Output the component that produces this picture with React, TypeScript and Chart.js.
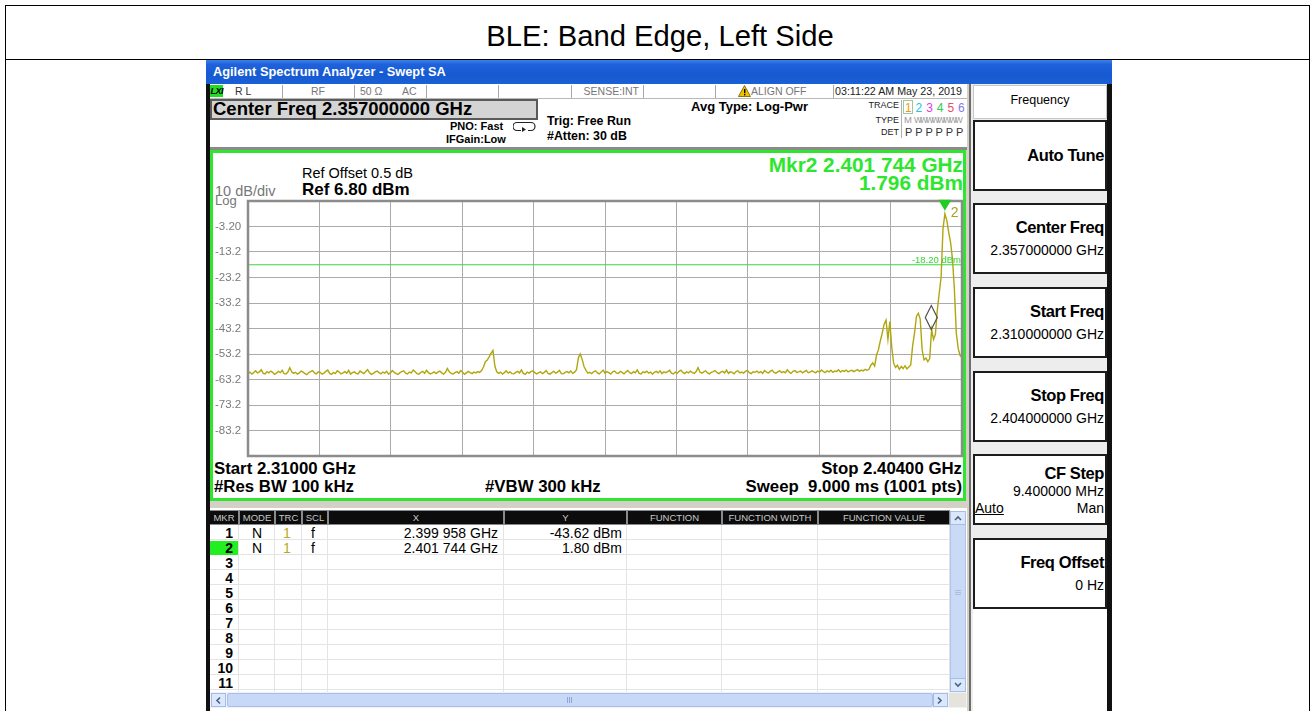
import React, { useEffect, useRef } from 'react';
import { Chart, registerables } from 'chart.js';

Chart.register(...registerables);

const FONT = '"Liberation Sans", Arial, Helvetica, sans-serif';

// ---------------- data ----------------
const START_GHZ = 2.31;
const STOP_GHZ = 2.404;
const STEP_GHZ = 0.00025;
const TRACE_DBM = [
  -60.9,-60.3,-61.1,-60.5,-59.8,-60.6,-60.2,-59.4,-60.8,-61.0,-60.1,-60.6,-59.9,-60.4,-61.2,-60.7,-60.0,-60.5,-59.6,-60.9,
  -61.0,-60.3,-58.6,-60.2,-60.8,-60.4,-61.1,-60.6,-59.9,-60.3,-60.9,-61.3,-60.5,-60.1,-59.7,-60.6,-61.0,-60.2,-60.4,-61.1,
  -60.7,-60.0,-59.5,-60.8,-61.2,-60.4,-60.9,-59.8,-60.3,-61.0,-60.6,-60.1,-60.7,-59.6,-61.1,-60.5,-60.2,-60.8,-61.0,-59.9,
  -60.4,-60.9,-60.1,-59.3,-60.6,-61.2,-60.8,-60.2,-59.9,-60.5,-61.0,-60.3,-60.7,-60.0,-61.1,-60.6,-59.7,-60.4,-60.9,-61.2,
  -60.5,-60.1,-59.8,-60.7,-61.0,-60.3,-60.6,-59.5,-60.2,-60.9,-61.1,-60.4,-60.0,-60.8,-59.6,-60.5,-61.0,-60.7,-60.2,-60.9,
  -60.3,-59.9,-60.6,-61.1,-60.4,-58.9,-60.2,-60.8,-61.0,-60.5,-60.1,-60.7,-59.7,-60.4,-61.2,-60.6,-60.0,-60.5,-60.9,-60.3,
  -60.6,-60.1,-60.4,-59.7,-58.3,-56.2,-55.6,-54.3,-52.9,-51.8,-57.9,-60.2,-60.8,-60.3,-61.1,-60.5,-59.8,-60.7,-60.2,-60.9,
  -61.0,-60.4,-60.0,-60.6,-59.4,-60.8,-61.2,-60.3,-60.7,-60.1,-59.8,-60.5,-61.0,-60.6,-60.2,-60.9,-60.4,-59.7,-60.8,-61.1,
  -60.5,-60.0,-60.7,-60.3,-59.6,-60.9,-61.0,-60.4,-60.1,-60.6,-59.9,-60.8,-60.3,-59.4,-54.6,-53.2,-55.4,-58.2,-59.6,-60.7,
  -60.4,-60.9,-60.2,-59.8,-60.6,-61.0,-60.3,-59.5,-60.7,-60.1,-60.5,-61.1,-60.2,-59.9,-60.6,-60.8,-60.0,-60.4,-61.0,-60.3,
  -59.7,-60.5,-60.9,-60.1,-60.6,-59.4,-60.8,-61.0,-60.2,-60.5,-59.9,-60.7,-60.3,-61.1,-60.4,-60.0,-60.6,-59.8,-60.9,-60.2,
  -60.5,-60.1,-59.6,-60.7,-61.0,-60.3,-60.8,-60.0,-59.5,-60.4,-60.9,-60.2,-60.6,-59.9,-60.5,-60.8,-60.1,-58.6,-60.3,-60.7,
  -60.2,-59.8,-60.6,-61.0,-60.4,-60.1,-59.7,-60.5,-60.9,-60.3,-60.0,-60.6,-59.5,-60.8,-60.2,-60.4,-61.0,-60.1,-59.8,-60.6,
  -60.3,-60.7,-60.0,-59.6,-60.5,-60.9,-60.2,-60.4,-59.9,-60.6,-60.1,-60.8,-59.7,-60.3,-60.6,-60.0,-59.5,-60.4,-60.7,-60.2,
  -59.8,-60.5,-60.1,-60.6,-59.4,-60.3,-60.8,-60.0,-59.7,-60.4,-60.2,-59.9,-60.6,-60.1,-59.6,-60.5,-60.3,-59.8,-60.2,-60.6,
  -59.9,-60.3,-59.5,-60.1,-60.5,-59.8,-60.2,-59.6,-60.4,-59.9,-60.1,-59.4,-60.3,-59.7,-60.0,-59.5,-60.2,-59.8,-59.6,-60.1,
  -59.7,-59.3,-60.0,-59.5,-59.8,-59.2,-59.6,-59.2,-57.6,-56.7,-57.9,-53.6,-51.5,-48.0,-45.0,-41.5,-39.9,-47.5,-40.5,-50.5,
  -56.8,-58.5,-57.6,-59.2,-58.1,-58.9,-57.8,-59.0,-58.3,-57.5,-50.0,-45.0,-38.5,-37.2,-39.5,-51.5,-55.5,-54.8,-56.2,-55.0,
  -43.6,-47.5,-45.5,-36.0,-29.4,-23.0,-4.0,1.8,-0.8,-5.5,-9.5,-16.0,-28.0,-45.0,-51.0,-53.8,-54.6,
];
const X_GRID_GHZ = [2.31, 2.3194, 2.3288, 2.3382, 2.3476, 2.357, 2.3664, 2.3758, 2.3852, 2.3946, 2.404];
const Y_GRID_DBM = [-93.2, -83.2, -73.2, -63.2, -53.2, -43.2, -33.2, -23.2, -13.2, -3.2, 6.8];
const Y_GRID_LABELS = ['', '-83.2', '-73.2', '-63.2', '-53.2', '-43.2', '-33.2', '-23.2', '-13.2', '-3.20', ''];
const DISPLAY_LINE_DBM = -18.2;
const DISPLAY_LINE_LABEL = '-18.20 dBm';
const MARKER_NUMBERS = [1, 2];
const MARKER_GHZ = [2.399958, 2.401744];
const MARKER_DBM = [-43.62, 1.796];

const TABLE_X = ['2.399 958 GHz', '2.401 744 GHz'];
const TABLE_Y = ['-43.62 dBm', '1.80 dBm'];
const TABLE_ROWS = ['1', '2', '3', '4', '5', '6', '7', '8', '9', '10', '11'];
const TABLE_HEAD = ['MKR', 'MODE', 'TRC', 'SCL', 'X', 'Y', 'FUNCTION', 'FUNCTION WIDTH', 'FUNCTION VALUE'];
const TABLE_COLS = [210, 239, 275, 302, 328, 504, 627, 722, 818, 950];

const SOFTKEY_TITLES = ['Auto Tune', 'Center Freq', 'Start Freq', 'Stop Freq', 'CF Step', 'Freq Offset'];
const SOFTKEY_VALUES = ['', '2.357000000 GHz', '2.310000000 GHz', '2.404000000 GHz', '9.400000 MHz', '0 Hz'];
const SOFTKEY_TOPS = [120, 203, 287, 371, 454, 538];

const TRACE_NUMS = ['1', '2', '3', '4', '5', '6'];
const TRACE_COLORS = ['#f09a10', '#20c4e8', '#e040e0', '#2ed050', '#f04868', '#8a78f0'];

// ---------------- chart ----------------
const overlayPlugin = {
  id: 'saOverlay',
  afterDatasetsDraw(chart: any) {
    const { ctx, chartArea: a, scales } = chart;
    const x = scales.x;
    const y = scales.y;
    ctx.save();
    ctx.strokeStyle = '#8c8c8c';
    ctx.lineWidth = 2.5;
    ctx.strokeRect(a.left, a.top, a.right - a.left, a.bottom - a.top);

    const dy = y.getPixelForValue(DISPLAY_LINE_DBM);
    ctx.fillStyle = '#30d830';
    ctx.font = '9.5px "Liberation Sans"';
    ctx.textAlign = 'right';
    ctx.textBaseline = 'alphabetic';
    ctx.fillText(DISPLAY_LINE_LABEL, a.right - 1, dy - 2);

    MARKER_GHZ.forEach((f, k) => {
      const px = x.getPixelForValue(f);
      const py = y.getPixelForValue(MARKER_DBM[k]);
      if (MARKER_NUMBERS[k] === 2) {
        ctx.fillStyle = '#22cc22';
        ctx.beginPath();
        ctx.moveTo(px, py - 3);
        ctx.lineTo(px + 6.5, py - 14);
        ctx.lineTo(px - 6.5, py - 14);
        ctx.closePath();
        ctx.fill();
        ctx.fillStyle = '#a59f2c';
        ctx.font = '14px "Liberation Sans"';
        ctx.textAlign = 'left';
        ctx.fillText(String(MARKER_NUMBERS[k]), px + 6, py + 3);
      } else {
        ctx.strokeStyle = '#505050';
        ctx.lineWidth = 1.2;
        ctx.beginPath();
        ctx.moveTo(px, py);
        ctx.lineTo(px + 6, py - 12);
        ctx.lineTo(px, py - 24);
        ctx.lineTo(px - 6, py - 12);
        ctx.closePath();
        ctx.stroke();
      }
    });
    ctx.restore();
  },
};

function SpectrumChart() {
  const ref = useRef<HTMLCanvasElement>(null);
  useEffect(() => {
    const canvas = ref.current;
    if (!canvas) return;
    const chart = new Chart(canvas, {
      type: 'line',
      data: {
        datasets: [
          {
            label: 'Trace 1',
            data: TRACE_DBM.map((v, i) => ({ x: START_GHZ + i * STEP_GHZ, y: v })),
            borderColor: '#b0a70e',
            borderWidth: 1.4,
            pointRadius: 0,
            tension: 0,
            fill: false,
          },
          {
            label: 'Display line',
            data: [
              { x: START_GHZ, y: DISPLAY_LINE_DBM },
              { x: STOP_GHZ, y: DISPLAY_LINE_DBM },
            ],
            borderColor: '#3ad83a',
            borderWidth: 1,
            pointRadius: 0,
          },
        ],
      },
      options: {
        animation: false,
        responsive: false,
        devicePixelRatio: 1,
        events: [],
        layout: { padding: { top: 8, right: 3, bottom: 8, left: 0 } },
        plugins: { legend: { display: false }, tooltip: { enabled: false } },
        scales: {
          x: {
            type: 'linear',
            min: START_GHZ,
            max: STOP_GHZ,
            afterBuildTicks: (s: any) => {
              s.ticks = X_GRID_GHZ.map((v) => ({ value: v }));
            },
            afterFit: (s: any) => {
              s.height = 0;
            },
            ticks: { display: false },
            grid: { color: '#ababab', lineWidth: 1, drawTicks: false },
            border: { display: false },
          },
          y: {
            type: 'linear',
            min: -93.2,
            max: 6.8,
            afterBuildTicks: (s: any) => {
              s.ticks = Y_GRID_DBM.map((v) => ({ value: v }));
            },
            afterFit: (s: any) => {
              s.width = 33;
            },
            ticks: {
              callback: (_v: any, i: number) => Y_GRID_LABELS[i],
              color: '#7a7a7a',
              font: { family: 'Liberation Sans', size: 11.5 },
              crossAlign: 'far',
              padding: 0,
              autoSkip: false,
            },
            grid: { color: '#ababab', lineWidth: 1, drawTicks: false },
            border: { display: false },
          },
        },
      } as any,
      plugins: [overlayPlugin],
    });
    return () => chart.destroy();
  }, []);
  return (
    <canvas
      ref={ref}
      width={750}
      height={271}
      style={{ position: 'absolute', left: 215, top: 193, width: 750, height: 271 }}
    />
  );
}

// ---------------- helpers ----------------
type TP = {
  x: number;
  y: number;
  s: number;
  t: string;
  b?: boolean;
  c?: string;
  al?: 'left' | 'right' | 'center';
  i?: boolean;
  u?: boolean;
  ls?: number;
};
function Txt({ x, y, s, t, b, c, al = 'left', i, u, ls }: TP) {
  const style: React.CSSProperties = {
    position: 'absolute',
    top: y - s * 0.5,
    fontSize: s,
    lineHeight: `${s}px`,
    fontWeight: b ? 700 : 400,
    fontStyle: i ? 'italic' : 'normal',
    textDecoration: u ? 'underline' : 'none',
    color: c || '#000',
    whiteSpace: 'pre',
    fontFamily: FONT,
    letterSpacing: ls || 0,
  };
  if (al === 'left') style.left = x;
  else if (al === 'right') style.right = 1314 - x;
  else {
    style.left = x;
    style.transform = 'translateX(-50%)';
  }
  return <div style={style}>{t}</div>;
}

function Box(props: { l: number; t: number; w: number; h: number; bg?: string; st?: React.CSSProperties; children?: any }) {
  return (
    <div
      style={{
        position: 'absolute',
        left: props.l,
        top: props.t,
        width: props.w,
        height: props.h,
        background: props.bg,
        boxSizing: 'border-box',
        ...(props.st || {}),
      }}
    >
      {props.children}
    </div>
  );
}

export default function App() {
  const statusSeps = [282, 354, 426, 498, 571, 643, 715, 833];
  return (
    <div
      style={{
        position: 'absolute',
        left: 0,
        top: 0,
        width: 1314,
        height: 711,
        overflow: 'hidden',
        background: '#fff',
        fontFamily: FONT,
      }}
    >
      {/* document table frame */}
      <Box l={5} t={5} w={1305} h={1} bg="#000" />
      <Box l={5} t={59} w={1305} h={1} bg="#000" />
      <Box l={5} t={5} w={1} h={706} bg="#000" />
      <Box l={1309} t={5} w={1} h={706} bg="#000" />
      <Txt x={660} y={37} s={29.2} t="BLE: Band Edge, Left Side" al="center" />

      {/* screenshot background */}
      <Box l={206} t={60} w={906} h={651} bg="#d4d0c8" />
      {/* title bar */}
      <Box
        l={206}
        t={60}
        w={906}
        h={24}
        st={{ background: 'linear-gradient(180deg, #3c82ee 0%, #1f62dc 18%, #165ad2 60%, #1c60d8 100%)' }}
      />
      <Txt x={213} y={72} s={12.8} b t="Agilent Spectrum Analyzer - Swept SA" c="#fff" />
      {/* window frames */}
      <Box l={206} t={84} w={4} h={627} bg="#111" />
      <Box l={1107} t={84} w={5} h={627} bg="#111" />

      {/* status row */}
      <Box l={210} t={84} w={757} h={15} bg="#fff" st={{ borderBottom: '1px solid #b8b8b8' }} />
      {statusSeps.map((sx) => (
        <Box key={sx} l={sx} t={85} w={1} h={13} bg="#a8a8a8" />
      ))}
      <Box l={210} t={85} w={13} h={12} bg="#22dd22" />
      <Txt x={210.5} y={91} s={9} b i t="LXI" ls={-0.5} />
      <Txt x={235} y={91.5} s={10.5} t="R L" c="#333" />
      <Txt x={311} y={91.5} s={10.5} t="RF" c="#777" />
      <Txt x={360} y={91.5} s={10.5} t="50 Ω" c="#777" />
      <Txt x={402} y={91.5} s={10.5} t="AC" c="#777" />
      <Txt x={639} y={91.5} s={10.5} t="SENSE:INT" c="#777" al="right" />
      <svg style={{ position: 'absolute', left: 738, top: 85 }} width={13} height={12}>
        <polygon points="6.5,0.5 12.5,11.5 0.5,11.5" fill="#f2c200" stroke="#6a5a00" strokeWidth={0.8} />
        <rect x={6} y={4} width={1.4} height={4.2} fill="#000" />
        <rect x={6} y={9} width={1.4} height={1.4} fill="#000" />
      </svg>
      <Txt x={751} y={91.5} s={10.5} t="ALIGN OFF" c="#777" />
      <Txt x={835} y={91.5} s={10.7} t="03:11:22 AM May 23, 2019" c="#222" />

      {/* header area */}
      <Box l={210} t={99} w={757} h={49} bg="#fff" />
      <Box l={210} t={99} w={328} h={21} bg="#d4d4d4" st={{ border: '2px solid #5a5a5a' }} />
      <Txt x={213} y={109.5} s={18.5} b t="Center Freq 2.357000000 GHz" />
      <Txt x={450} y={126} s={11} b t="PNO: Fast" />
      <Txt x={446} y={139.5} s={11} b t="IFGain:Low" />
      <svg style={{ position: 'absolute', left: 513, top: 120 }} width={23} height={12}>
        <path d="M8,10.5 H4 a3.5,3.5 0 0 1 0,-8 H18 a3.5,3.5 0 0 1 0,8 H15" fill="none" stroke="#222" strokeWidth={1.2} />
        <polygon points="9,7 13,9.5 9,12" fill="#222" />
      </svg>
      <Txt x={547} y={121} s={12.4} b t="Trig: Free Run" />
      <Txt x={547} y={136.5} s={12.4} b t="#Atten: 30 dB" />
      <Txt x={691} y={106.5} s={13} b t="Avg Type: Log-Pwr" />
      <Txt x={899} y={105.5} s={9} t="TRACE" al="right" c="#222" />
      <Txt x={899} y={120} s={9} t="TYPE" al="right" c="#222" />
      <Txt x={899} y={132.5} s={9} t="DET" al="right" c="#222" />
      <Box l={901} t={100} w={1} h={38} bg="#b0b0b0" />
      <Box l={903} t={100} w={10} h={14} st={{ border: '1px solid #9cc89c' }} />
      {TRACE_NUMS.map((n, k) => (
        <Txt key={n} x={905 + k * 10.6} y={107.5} s={12} t={n} c={TRACE_COLORS[k]} />
      ))}
      <Txt x={904} y={120} s={9.5} t="M" c="#999" />
      <Txt x={914} y={120} s={8.5} t="WWWWWWWW" c="#999" ls={-2.2} />
      <Txt x={905} y={132.5} s={11} t="P P P P P P" c="#333" />
      <Box l={210} t={147} w={757} h={3} bg="#8a8a8a" />

      {/* plot frame */}
      <Box l={210} t={150} w={756} h={351} bg="#fff" st={{ border: '3px solid #2ee62e' }} />
      <Txt x={302} y={173} s={14.5} t="Ref Offset 0.5 dB" />
      <Txt x={215} y={191} s={14.5} t="10 dB/div" c="#777" />
      <Txt x={302} y={189} s={17} b t="Ref 6.80 dBm" />
      <Txt x={215} y={200.5} s={13} t="Log" c="#777" />
      <Txt x={963} y={165} s={20.8} b t="Mkr2 2.401 744 GHz" c="#2ee62e" al="right" />
      <Txt x={963} y={183.5} s={20.8} b t="1.796 dBm" c="#2ee62e" al="right" />
      <Txt x={214} y={469} s={16.8} b t="Start 2.31000 GHz" />
      <Txt x={214} y={487} s={16.8} b t="#Res BW 100 kHz" />
      <Txt x={485} y={487} s={16.8} b t="#VBW 300 kHz" />
      <Txt x={962} y={469} s={16.8} b t="Stop 2.40400 GHz" al="right" />
      <Txt x={962} y={487} s={16.8} b t="Sweep  9.000 ms (1001 pts)" al="right" />
      <SpectrumChart />

      {/* marker table */}
      <Box l={210} t={508} w={757} h={203} bg="#fff" />
      <Box l={210} t={510} w={740} h={15} bg="#8a8a8a" />
      {TABLE_HEAD.map((h, k) => (
        <Box key={h} l={TABLE_COLS[k] + (k === 0 ? 0 : 1)} t={511} w={TABLE_COLS[k + 1] - TABLE_COLS[k] - (k === 0 ? 1 : 2)} h={13} bg="#0c0c0c">
          <div
            style={{
              position: 'absolute',
              left: 0,
              right: 0,
              top: 0,
              textAlign: 'center',
              fontSize: 9.5,
              lineHeight: '13px',
              color: '#c8c8c8',
              fontFamily: FONT,
              whiteSpace: 'nowrap',
              overflow: 'hidden',
            }}
          >
            {h}
          </div>
        </Box>
      ))}
      {TABLE_ROWS.map((r, k) => (
        <Box key={'l' + r} l={210} t={539 + k * 15} w={740} h={1} bg="#e4e4e4" />
      ))}
      {TABLE_COLS.slice(1).map((cx) => (
        <Box key={'c' + cx} l={cx - 1} t={525} w={1} h={167} bg="#e4e4e4" />
      ))}
      <Box l={210} t={541} w={28} h={14} bg="#22ee22" />
      {TABLE_ROWS.map((r, k) => (
        <Txt key={'r' + r} x={233} y={533 + k * 15} s={14} b t={r} al="right" />
      ))}
      {TABLE_X.map((xv, k) => (
        <React.Fragment key={'m' + k}>
          <Txt x={257} y={533 + k * 15} s={14} t="N" al="center" />
          <Txt x={287} y={533 + k * 15} s={14} t="1" al="center" c="#b4ac1c" />
          <Txt x={313} y={533 + k * 15} s={14} t="f" al="center" />
          <Txt x={498} y={533 + k * 15} s={14} t={xv} al="right" />
          <Txt x={622} y={533 + k * 15} s={14} t={TABLE_Y[k]} al="right" />
        </React.Fragment>
      ))}
      {/* vertical scrollbar */}
      <Box l={950} t={511} w={16} h={181} bg="#c9daf6" st={{ border: '1px solid #b0c4e8' }} />
      <Box l={950} t={511} w={16} h={14} bg="#dbe7fb" st={{ border: '1px solid #a8bde6' }} />
      <svg style={{ position: 'absolute', left: 953, top: 514 }} width={10} height={8}>
        <polyline points="2,6 5,3 8,6" fill="none" stroke="#4a5f8c" strokeWidth={1.6} />
      </svg>
      <Box l={950} t={678} w={16} h={14} bg="#dbe7fb" st={{ border: '1px solid #a8bde6' }} />
      <svg style={{ position: 'absolute', left: 953, top: 681 }} width={10} height={8}>
        <polyline points="2,2 5,5 8,2" fill="none" stroke="#4a5f8c" strokeWidth={1.6} />
      </svg>
      <Box l={955} t={590} w={6} h={1} bg="#a9bde4" />
      <Box l={955} t={592} w={6} h={1} bg="#a9bde4" />
      <Box l={955} t={594} w={6} h={1} bg="#a9bde4" />
      {/* horizontal scrollbar */}
      <Box l={210} t={692} w={757} h={16} bg="#eef2fb" />
      <Box l={211} t={693} w={15} h={14} bg="#dbe7fb" st={{ border: '1px solid #a8bde6' }} />
      <svg style={{ position: 'absolute', left: 214, top: 696 }} width={8} height={9}>
        <polyline points="6,1.5 3,4.5 6,7.5" fill="none" stroke="#4a5f8c" strokeWidth={1.6} />
      </svg>
      <Box l={227} t={693} w={706} h={14} bg="#c7d9f7" st={{ border: '1px solid #a9bfe9', borderRadius: 2 }} />
      <Box l={567} t={697} w={1} h={6} bg="#8fa7d6" />
      <Box l={569} t={697} w={1} h={6} bg="#8fa7d6" />
      <Box l={571} t={697} w={1} h={6} bg="#8fa7d6" />
      <Box l={933} t={693} w={15} h={14} bg="#dbe7fb" st={{ border: '1px solid #a8bde6' }} />
      <svg style={{ position: 'absolute', left: 936, top: 696 }} width={8} height={9}>
        <polyline points="2,1.5 5,4.5 2,7.5" fill="none" stroke="#4a5f8c" strokeWidth={1.6} />
      </svg>
      <Box l={949} t={693} w={17} h={14} bg="#e6e3dc" />

      {/* right softkey panel */}
      <Box l={969} t={84} w={138} h={627} bg="#ededed" st={{ borderLeft: '2px solid #6e6e6e' }} />
      <Box l={973} t={85} w={134} h={34} bg="#fff" st={{ border: '1px solid #c8c8c8' }} />
      <Txt x={1040} y={100.5} s={12.5} t="Frequency" al="center" />
      {SOFTKEY_TOPS.map((top, k) => (
        <Box key={'k' + k} l={973} t={top} w={134} h={71} bg="#fff" st={{ border: '2px solid #1c1c1c' }} />
      ))}
      <Box l={973} t={609} w={134} h={102} bg="#fff" />
      {SOFTKEY_TITLES.map((title, k) => {
        const top = SOFTKEY_TOPS[k];
        const ty = k === 0 ? top + 35 : k === 4 ? top + 19 : top + 24;
        return <Txt key={'t' + k} x={1104} y={ty} s={16.5} b t={title} al="right" ls={-0.4} />;
      })}
      {SOFTKEY_VALUES.map((v, k) =>
        v ? (
          <Txt
            key={'v' + k}
            x={1104}
            y={k === 4 ? SOFTKEY_TOPS[k] + 37 : SOFTKEY_TOPS[k] + 47}
            s={14}
            t={v}
            al="right"
          />
        ) : null
      )}
      <Txt x={975} y={508} s={14} t="Auto" u />
      <Txt x={1104} y={508} s={14} t="Man" al="right" />
    </div>
  );
}
